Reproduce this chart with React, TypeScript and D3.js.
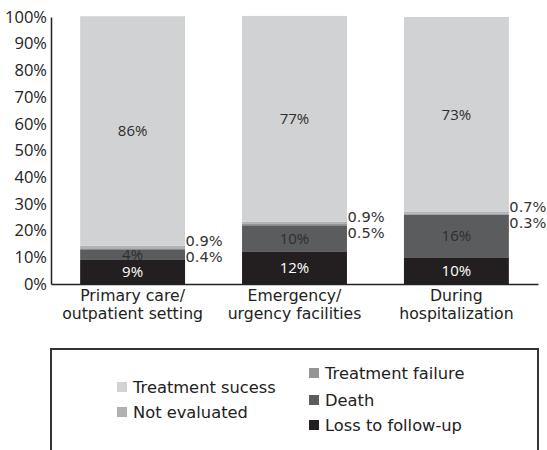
import * as d3 from "d3";
import React, { useRef, useEffect } from "react";

const categories = [
  ["Primary care/", "outpatient setting"],
  ["Emergency/", "urgency facilities"],
  ["During", "hospitalization"],
];
const lossToFollowUp = [9, 12, 10];
const death = [4, 10, 16];
const treatmentFailure = [0.4, 0.5, 0.3];
const notEvaluated = [0.9, 0.9, 0.7];
const treatmentSuccess = [86, 77, 73];
const yTicks = [0, 10, 20, 30, 40, 50, 60, 70, 80, 90, 100];

const series = [
  { key: "loss", name: "Loss to follow-up", values: lossToFollowUp, color: "#231f20", text: "#ffffff" },
  { key: "death", name: "Death", values: death, color: "#5b5c5e", text: "#2e2e2e" },
  { key: "failure", name: "Treatment failure", values: treatmentFailure, color: "#939598", text: null },
  { key: "noteval", name: "Not evaluated", values: notEvaluated, color: "#b0b1b4", text: null },
  { key: "success", name: "Treatment sucess", values: treatmentSuccess, color: "#d1d2d4", text: "#2e2e2e" },
];

const App = () => {
  const ref = useRef(null);
  const W = 547, H = 450;

  useEffect(() => {
    const svg = d3.select(ref.current);
    svg.selectAll("*").remove();

    const x = d3.scaleBand().domain(categories.map((c, i) => String(i)))
      .range([51, 538]).paddingInner(0.352).paddingOuter(0.18);
    const y = d3.scaleLinear().domain([0, 100]).range([284, 17]);

    const rows = categories.map((c, i) => {
      const r: any = { idx: String(i) };
      series.forEach(s => { r[s.key] = s.values[i]; });
      return r;
    });
    const stack = d3.stack().keys(series.map(s => s.key));
    const stacked = stack(rows);

    const g = svg.append("g");
    stacked.forEach((layer, li) => {
      const s = series[li];
      g.append("g").selectAll("rect").data(layer).enter().append("rect")
        .attr("x", (d: any) => x(d.data.idx))
        .attr("width", x.bandwidth())
        .attr("y", (d: any) => y(d[1]))
        .attr("height", (d: any) => y(d[0]) - y(d[1]))
        .attr("fill", s.color);
      if (s.text) {
        g.append("g").selectAll("text").data(layer).enter().append("text")
          .attr("x", (d: any) => x(d.data.idx) + x.bandwidth() / 2)
          .attr("y", (d: any) => y((d[0] + d[1]) / 2))
          .attr("dy", "0.36em")
          .attr("text-anchor", "middle")
          .attr("font-family", "'Open Sans', sans-serif")
          .attr("font-size", 15)
          .attr("fill", s.text)
          .text((d: any, i) => s.values[i] + "%");
      }
    });

    // small values beside the bars
    const failLayer = stacked[2];
    const evalLayer = stacked[3];
    evalLayer.forEach((d: any, i) => {
      const lx = x(String(i)) + x.bandwidth() + 0.5;
      g.append("text").attr("x", lx).attr("y", y(d[1]))
        .attr("font-family", "'DejaVu Sans', sans-serif").attr("font-size", 14.6).attr("fill", "#333")
        .text(notEvaluated[i] + "%");
      g.append("text").attr("x", lx).attr("y", y(failLayer[i][1]) + 14)
        .attr("font-family", "'DejaVu Sans', sans-serif").attr("font-size", 14.6).attr("fill", "#333")
        .text(treatmentFailure[i] + "%");
    });

    // y axis
    const ya = svg.append("g").attr("transform", "translate(51,0)")
      .call(d3.axisLeft(y).tickValues(yTicks).tickSize(0).tickPadding(4).tickFormat((d: any) => d + "%"));
    ya.select(".domain").attr("stroke", "#222").attr("stroke-width", 1.5);
    ya.selectAll("text").attr("font-family", "'Open Sans', sans-serif").attr("font-size", 16.5).attr("fill", "#222");

    // x axis
    const xa = svg.append("g").attr("transform", "translate(0,284)")
      .call(d3.axisBottom(x).tickSize(0).tickFormat(() => ""));
    xa.select(".domain").attr("stroke", "#222").attr("stroke-width", 1.5);
    categories.forEach((c, i) => {
      const t = svg.append("text").attr("x", x(String(i)) + x.bandwidth() / 2).attr("y", 301)
        .attr("text-anchor", "middle").attr("font-family", "'DejaVu Sans', sans-serif")
        .attr("font-size", 15.7).attr("fill", "#222");
      c.forEach((line, li) => {
        t.append("tspan").attr("x", x(String(i)) + x.bandwidth() / 2).attr("dy", li === 0 ? 0 : 18).text(line);
      });
    });

    // legend
    svg.append("path").attr("d", "M51,450V349H538V450")
      .attr("fill", "none").attr("stroke", "#333").attr("stroke-width", 2);
    const legendPos: any = {
      success: [117, 387], noteval: [117, 412],
      failure: [309, 373], death: [309, 400], loss: [309, 425],
    };
    series.forEach(s => {
      const [lx, ly] = legendPos[s.key];
      svg.append("rect").attr("x", lx).attr("y", ly - 5).attr("width", 10).attr("height", 10).attr("fill", s.color);
      svg.append("text").attr("x", lx + 16).attr("y", ly).attr("dy", "0.36em")
        .attr("font-family", "'DejaVu Sans', sans-serif").attr("font-size", 16.3).attr("fill", "#222")
        .text(s.name);
    });
  }, []);

  return (
    <svg ref={ref} width={W} height={H} style={{ position: "absolute", left: 0, top: 0 }} />
  );
};

export default App;
